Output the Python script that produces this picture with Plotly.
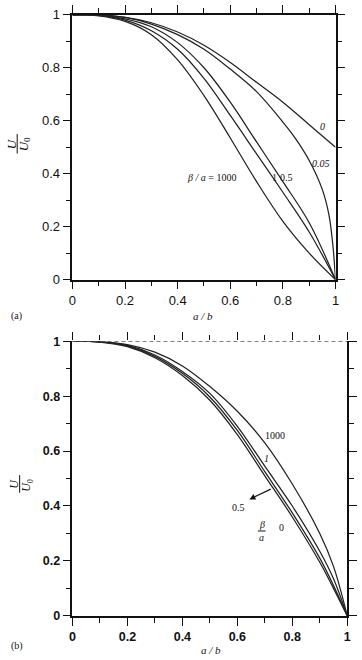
import plotly.graph_objects as go

W, H = 362, 660

# ---------------- data ----------------
# panel (a): U/U0 versus a/b for beta/a = 0, 0.05, 0.5, 1, 1000
xa = [0, 0.1, 0.2, 0.3, 0.4, 0.5, 0.6, 0.7, 0.8, 0.9, 1.0]
a_b0 = [1.0, 1.0, 0.99, 0.97, 0.935, 0.885, 0.82, 0.745, 0.67, 0.585, 0.50]
xa005 = [0, 0.1, 0.2, 0.3, 0.4, 0.5, 0.6, 0.7, 0.8, 0.85, 0.9, 0.95, 0.975, 0.99, 1.0]
a_b005 = [1.0, 1.0, 0.99, 0.965, 0.925, 0.87, 0.795, 0.71, 0.595, 0.53, 0.45, 0.34, 0.245, 0.13, 0.0]
a_b05 = [1.0, 0.999, 0.985, 0.955, 0.895, 0.80, 0.67, 0.52, 0.37, 0.215, 0.0]
a_b1 = [1.0, 0.998, 0.98, 0.94, 0.87, 0.76, 0.62, 0.475, 0.33, 0.18, 0.0]
a_b1000 = [1.0, 0.996, 0.975, 0.925, 0.83, 0.695, 0.535, 0.37, 0.22, 0.10, 0.0]
# panel (b): U/U0 versus a/b for beta/a = 0, 0.5, 1, 1000
xb = [0, 0.1, 0.2, 0.3, 0.4, 0.5, 0.6, 0.7, 0.8, 0.9, 0.95, 1.0]
b_b0 = [1.0, 0.997, 0.98, 0.94, 0.875, 0.785, 0.66, 0.51, 0.36, 0.195, 0.1, 0.0]
b_b05 = [1.0, 0.998, 0.983, 0.945, 0.883, 0.797, 0.675, 0.525, 0.375, 0.21, 0.11, 0.0]
b_b1 = [1.0, 0.998, 0.985, 0.95, 0.89, 0.81, 0.69, 0.545, 0.4, 0.235, 0.135, 0.0]
b_b1000 = [1.0, 0.998, 0.988, 0.96, 0.91, 0.835, 0.745, 0.63, 0.48, 0.3, 0.18, 0.0]

ticks_major = [0, 0.2, 0.4, 0.6, 0.8, 1]
ticks_text = ["0", "0.2", "0.4", "0.6", "0.8", "1"]
ticks_minor = [0.1, 0.3, 0.5, 0.7, 0.9]

LC = "#222222"
SERIF = "Liberation Serif"
SANS = "Liberation Sans"

fig = go.Figure()

def curve(x, y, xa_, ya_):
    fig.add_trace(go.Scatter(x=x, y=y, xaxis=xa_, yaxis=ya_, mode="lines",
                             line=dict(color=LC, width=1.25, shape="spline", smoothing=1.0),
                             hoverinfo="skip", cliponaxis=False))

curve(xa, a_b0, "x", "y")
curve(xa005, a_b005, "x", "y")
curve(xa, a_b05, "x", "y")
curve(xa, a_b1, "x", "y")
curve(xa, a_b1000, "x", "y")

curve(xb, b_b0, "x2", "y2")
curve(xb, b_b05, "x2", "y2")
curve(xb, b_b1, "x2", "y2")
curve(xb, b_b1000, "x2", "y2")

def px_x(p):
    return p / W

def px_y(p):
    return 1 - p / H

minor_cfg = dict(ticks="outside", ticklen=5, tickwidth=1.2, tickcolor="#111",
                 tickmode="array", tickvals=ticks_minor, showgrid=False)

axis_common = dict(range=[0, 1], tickmode="array", tickvals=ticks_major, ticktext=ticks_text,
                   ticks="outside", ticklen=8, tickwidth=1.3, tickcolor="#111",
                   showline=True, linewidth=1.5, linecolor="#111",
                   showgrid=False, zeroline=False, minor=minor_cfg)

font_a = dict(family=SANS, size=13, color="#111")
font_b = dict(family=SANS, size=12.5, color="#111", weight="bold")

fig.update_layout(
    width=W, height=H, margin=dict(l=0, r=0, t=0, b=0),
    paper_bgcolor="white", plot_bgcolor="white", showlegend=False,
    xaxis=dict(domain=[px_x(70), px_x(339)], anchor="y", mirror="ticks", tickfont=font_a, **axis_common),
    yaxis=dict(domain=[px_y(279), px_y(8)], anchor="x", mirror="ticks", tickfont=font_a, **axis_common),
    xaxis2=dict(domain=[px_x(70), px_x(351)], anchor="y2", mirror=False, tickfont=font_b, **axis_common),
    yaxis2=dict(domain=[px_y(623), px_y(342)], anchor="x2", mirror="ticks", tickfont=font_b, **axis_common),
    xaxis3=dict(overlaying="x2", side="top", anchor="y2", range=[0, 1], tickmode="array",
                tickvals=ticks_major, ticks="outside", ticklen=8, tickwidth=1.3, tickcolor="#111",
                showticklabels=False, showline=False, showgrid=False, zeroline=False,
                minor=minor_cfg),
)

# dashed top line in panel (b)
fig.add_shape(type="line", xref="x2", yref="y2", x0=0, x1=1, y0=1, y1=1,
              line=dict(color="#555", width=1.3, dash="4px,3px"), layer="above")
# invisible trace so the top tick axis of panel (b) is drawn
fig.add_trace(go.Scatter(x=[0], y=[0], xaxis="x3", yaxis="y2", mode="markers",
                         marker=dict(opacity=0), hoverinfo="skip"))

ann = []
def txt(x, y, s, size=10, xref="x", yref="y", angle=0, xanchor="center", yanchor="middle", family=SERIF):
    ann.append(dict(x=x, y=y, xref=xref, yref=yref, text=s, showarrow=False, textangle=angle,
                    xanchor=xanchor, yanchor=yanchor, font=dict(family=family, size=size, color="#111")))

# panel (a) labels
txt(0.952, 0.58, "<i>0</i>")
txt(0.944, 0.439, "<i>0.05</i>")
txt(0.529, 0.387, "<i>β / a</i> = 1000")
txt(0.768, 0.387, "1")
txt(0.815, 0.387, "0.5")
# panel (b) labels
txt(0.738, 0.657, "1000", xref="x2", yref="y2")
txt(0.707, 0.574, "<i>1</i>", xref="x2", yref="y2")
txt(0.604, 0.396, "0.5", xref="x2", yref="y2")
txt(0.762, 0.323, "0", xref="x2", yref="y2")
txt(0.689, 0.334, "<i>β</i>", xref="x2", yref="y2")
txt(0.689, 0.284, "<i>a</i>", xref="x2", yref="y2")
fig.add_shape(type="line", xref="x2", yref="y2", x0=0.675, x1=0.703, y0=0.309, y1=0.309,
              line=dict(color="#111", width=1))
ann.append(dict(x=0.644, y=0.424, xref="x2", yref="y2", ax=0.727, ay=0.464, axref="x2", ayref="y2",
                text="", showarrow=True, arrowhead=2, arrowsize=1, arrowwidth=1.2, arrowcolor="#111"))

# axis titles and panel tags
txt(px_x(204), px_y(316), "<i>a / b</i>", size=11, xref="paper", yref="paper")
txt(px_x(212), px_y(658), "<i>a / b</i>", size=11, xref="paper", yref="paper")
txt(px_x(13), px_y(316), "(a)", size=10, xref="paper", yref="paper")
txt(px_x(13), px_y(654), "(b)", size=10, xref="paper", yref="paper")

# U/U0 fraction titles (rotated)
def frac(cx, cy, bar_half, size):
    txt(px_x(cx - 6), px_y(cy), "<i>U</i>", size=size, xref="paper", yref="paper", angle=-90)
    txt(px_x(cx + 7.5), px_y(cy + 1), "<i>U</i><sub>0</sub>", size=size, xref="paper", yref="paper", angle=-90)
    fig.add_shape(type="line", xref="paper", yref="paper", x0=px_x(cx), x1=px_x(cx),
                  y0=px_y(cy - bar_half), y1=px_y(cy + bar_half), line=dict(color="#111", width=1))

frac(13.5, 140, 10, 13)
frac(16, 488, 9, 12)

fig.update_layout(annotations=ann)
fig.write_html("out.html")
